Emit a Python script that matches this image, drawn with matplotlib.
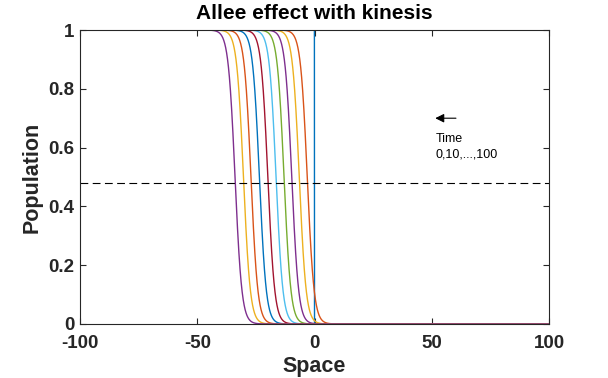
import numpy as np
import matplotlib
matplotlib.use("Agg")
import matplotlib.pyplot as plt

plt.rcParams['font.family'] = ['Liberation Sans', 'DejaVu Sans']
plt.rcParams['axes.unicode_minus'] = False

# front position (where population crosses ~0.5) for t = 0,10,...,100
times = [0, 10, 20, 30, 40, 50, 60, 70, 80, 90, 100]
front_pos = [0, -3.1, -6.5, -9.7, -13.0, -16.4, -19.9, -23.5, -27.1, -30.3, -33.9]
front_width = 1.45
threshold = 0.48

colors = ['#0072BD', '#D95319', '#EDB120', '#7E2F8E', '#77AC30',
          '#4DBEEE', '#A2142F']

x = np.linspace(-100, 100, 4001)

fig = plt.figure(figsize=(6.08, 3.78), dpi=100)
ax = fig.add_axes([0.1316, 0.1429, 0.7714, 0.7777])

for i, (t, c) in enumerate(zip(times, front_pos)):
    if t == 0:
        u = np.where(x < c, 1.0, 0.0)
    else:
        u = 1.0 / (1.0 + np.exp((x - c) / front_width))
    ax.plot(x, u, color=colors[i % len(colors)], lw=1.0)

ax.plot([-100, 100], [threshold, threshold], 'k--', lw=0.8, dashes=(7, 4))

ax.annotate('', xy=(50.3, 0.70), xytext=(61.5, 0.70),
            arrowprops=dict(arrowstyle='-|>', color='k', lw=0.8,
                            mutation_scale=13))
ax.text(51.6, 0.629, 'Time', fontsize=9, va='center', ha='left')
ax.text(51.6, 0.575, '0,10,...,100', fontsize=9, va='center', ha='left')

ax.set_xlim(-100, 100)
ax.set_ylim(0, 1)
ax.set_xticks([-100, -50, 0, 50, 100])
ax.set_yticks([0, 0.2, 0.4, 0.6, 0.8, 1])
ax.set_yticklabels(['0', '0.2', '0.4', '0.6', '0.8', '1'])
ax.tick_params(direction='in', top=True, right=True, length=4, width=0.8,
               labelsize=13.5, colors='#262626')
ax.tick_params(axis='x', pad=8)
ax.tick_params(axis='y', pad=4)
for lab in ax.get_xticklabels() + ax.get_yticklabels():
    lab.set_fontweight('bold')
for sp in ax.spines.values():
    sp.set_color('#262626')
    sp.set_linewidth(0.8)

ax.set_xlabel('Space', fontsize=15.5, fontweight='bold', labelpad=3, color='#262626')
ax.set_ylabel('Population', fontsize=15.5, fontweight='bold', labelpad=4, color='#262626')
ax.set_title('Allee effect with kinesis', fontsize=15, fontweight='bold', pad=8)

fig.savefig('out.png', dpi=100)
